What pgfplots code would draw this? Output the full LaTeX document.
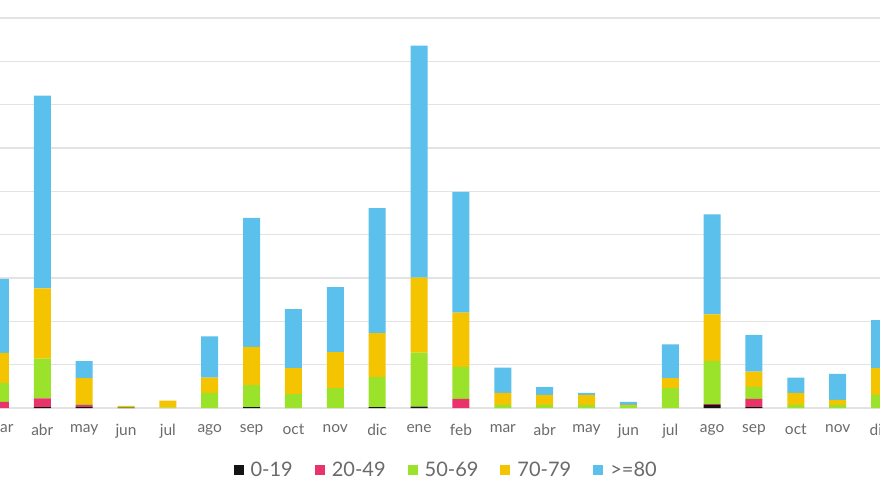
\documentclass[border=0pt]{standalone}
\usepackage{pgfplots}
\pgfplotsset{compat=1.18}
\usepackage{pgfplotstable}
\usepackage{fontspec}
\setmainfont{Lato}
\definecolor{cblack}{HTML}{141414}
\definecolor{cpink}{HTML}{E8336B}
\definecolor{cgreen}{HTML}{9BE22A}
\definecolor{cyellow}{HTML}{F5C400}
\definecolor{cblue}{HTML}{5BC0EB}
\definecolor{txt}{HTML}{6A6A6A}
\pgfplotstableread{
x  a    b    c    d    e
0  0    1.4  4.4  6.9  17.1
1  0.2  2.0  9.2  16.2 44.5
2  0.2  0.5  0.2  6.0  3.9
3  0.1  0    0.1  0.3  0
4  0    0    0.1  1.6  0
5  0    0    3.5  3.5  9.5
6  0.2  0    5.1  8.8  29.8
7  0    0    3.2  6.0  13.6
8  0    0    4.6  8.3  15.0
9  0.2  0    6.9  10.2 28.8
10 0.3  0    12.5 17.3 53.5
11 0    2.1  7.4  12.5 27.9
12 0    0    0.7  2.8  5.8
13 0    0    0.7  2.3  1.8
14 0    0    0.7  2.3  0.5
15 0    0    0.5  0.2  0.7
16 0    0    4.6  2.3  7.8
17 0.7  0.2  9.9  10.8 23.1
18 0.2  1.9  2.8  3.5  8.5
19 0    0    0.7  2.8  3.5
20 0    0    0.7  1.2  6.0
21 0    0    3.0  6.2  11.1
}\data
\begin{document}
\begin{tikzpicture}
\useasboundingbox (0pt,-87pt) rectangle (880pt,408pt);
\begin{axis}[
  at={(0pt,0pt)}, anchor=south west,
  scale only axis,
  width=880pt, height=408pt,
  ybar stacked, bar width=17pt,
  xmin=-0.01, xmax=21.01,
  ymin=0, ymax=94.15,
  xtick={0,...,21},
  xticklabels={mar,abr,may,jun,jul,ago,sep,oct,nov,dic,ene,feb,mar,abr,may,jun,jul,ago,sep,oct,nov,dic},
  ytick={0,10,...,90},
  yticklabels={},
  ymajorgrids,
  major grid style={line width=1.6pt, color=black!11},
  axis line style={draw=none},
  tick style={draw=none},
  xticklabel style={font=\fontsize{15.5}{18}\selectfont, text=txt, yshift=-13pt},
  legend columns=-1,
  legend style={draw=none, at={(axis description cs:0.507,-0.152)}, anchor=center,
    font=\fontsize{20}{23}\selectfont, text=txt,
    /tikz/every even column/.append style={column sep=20pt}},
  legend image code/.code={\fill[#1] (0pt,-5pt) rectangle (10pt,5pt); \path (15pt,0pt);},
]
\addplot[fill=cblack, draw=none] table[x=x,y=a]{\data};
\addplot[fill=cpink, draw=none] table[x=x,y=b]{\data};
\addplot[fill=cgreen, draw=none] table[x=x,y=c]{\data};
\addplot[fill=cyellow, draw=none] table[x=x,y=d]{\data};
\addplot[fill=cblue, draw=none] table[x=x,y=e]{\data};
\legend{0-19,20-49,50-69,70-79,>=80}
\end{axis}
\end{tikzpicture}
\end{document}
